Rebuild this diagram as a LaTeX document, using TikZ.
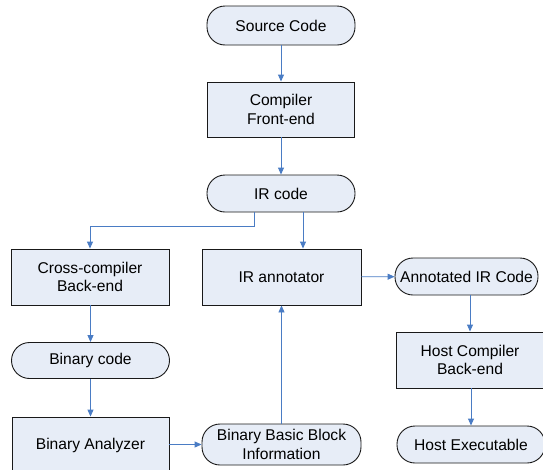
\documentclass[tikz,border=0pt]{standalone}
\usepackage{fontspec}
\setmainfont{Liberation Sans}
\usetikzlibrary{arrows.meta,calc}
\definecolor{boxfill}{RGB}{231,237,247}
\definecolor{boxline}{RGB}{25,25,25}
\definecolor{flow}{RGB}{74,124,196}
\tikzset{
  base/.style={draw=boxline, line width=0.9pt, fill=boxfill, align=center,
    font=\fontsize{15.6}{18.5}\selectfont, inner sep=0pt},
  procbox/.style={base, rectangle, minimum height=56pt},
  termbox/.style={base, rectangle, rounded corners=18pt, minimum height=37pt},
  arr/.style={draw=flow, line width=0.9pt, -{Triangle[length=7pt,width=6pt]}}
}
\begin{document}
\begin{tikzpicture}[x=1pt,y=-1pt]
  \useasboundingbox (0,0) rectangle (543,469);

  % centre column
  \node[termbox, minimum width=148pt, minimum height=39pt] (src) at (281,25.5) {Source Code};
  \node[procbox, minimum width=147pt, minimum height=55pt] (front) at (281,109.5) {Compiler\\Front-end};
  \node[termbox, minimum width=148pt] (ir) at (281,193.5) {IR code};
  \node[procbox, minimum width=159pt] (annot) at (281.5,277) {IR annotator};
  \node[termbox, minimum width=159pt, minimum height=41pt] (bbbi) at (281.5,444.5) {Binary Basic Block\\Information};

  % left column
  \node[procbox, minimum width=158pt] (cross) at (90,277) {Cross-compiler\\Back-end};
  \node[termbox, minimum width=158pt, minimum height=36pt] (bincode) at (90.5,360.5) {Binary code};
  \node[procbox, minimum width=157pt] (binan) at (90.5,445) {Binary Analyzer};

  % right column
  \node[termbox, minimum width=143pt] (anir) at (466.5,276.5) {Annotated IR Code};
  \node[procbox, minimum width=148pt] (hcb) at (470,360) {Host Compiler\\Back-end};
  \node[termbox, minimum width=148pt] (hexe) at (471,444.5) {Host Executable};

  % connectors
  \draw[arr] (src) -- (front);
  \draw[arr] (front) -- (ir);
  \draw[arr] ([xshift=22pt]ir.south) coordinate (irr) -- (irr |- annot.north);
  \draw[arr] ([xshift=-27pt]ir.south) -- ++(0,14) -| (cross.north);
  \draw[arr] (annot) -- (anir);
  \draw[arr] (anir.south -| hcb.north) -- (hcb.north);
  \draw[arr] (hcb.south -| hexe.north) -- (hexe.north);
  \draw[arr] (cross.south -| bincode.north) -- (bincode.north);
  \draw[arr] (bincode) -- (binan);
  \draw[arr] (binan.east |- bbbi.west) -- (bbbi.west);
  \draw[arr] (bbbi.north -| annot.south) -- (annot.south);
\end{tikzpicture}
\end{document}
